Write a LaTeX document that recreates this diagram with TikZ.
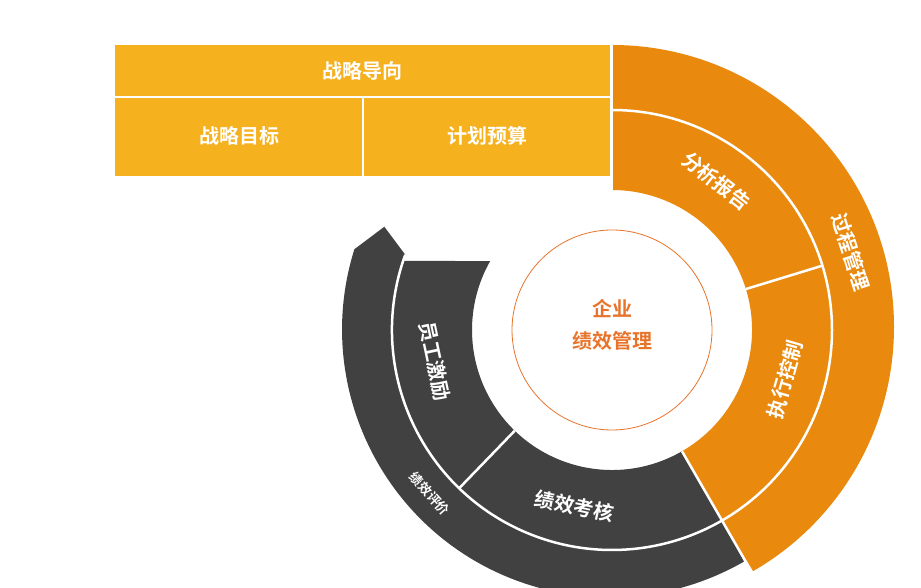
\documentclass[tikz,border=0pt]{standalone}
\usepackage{fontspec}
\setmainfont{Noto Sans CJK SC}[BoldFont={Noto Sans CJK SC Bold}]
\usetikzlibrary{positioning}
\definecolor{barYellow}{HTML}{F5B11E}
\definecolor{ringOrange}{HTML}{E98A0E}
\definecolor{ringGray}{HTML}{414141}
\definecolor{coreRed}{HTML}{E8732A}
\tikzset{
  lbl/.style={text=white,font=\bfseries\fontsize{20}{22}\selectfont},
  smalllbl/.style={text=white,font=\bfseries\fontsize{13}{14}\selectfont},
  sep/.style={white,line width=2.5pt},
}
\begin{document}
\begin{tikzpicture}[x=1pt,y=1pt]
\useasboundingbox (0,0) rectangle (921,588);

% top bar
\fill[barYellow] (115,412) rectangle (610,543);
\draw[sep] (115,491) -- (610,491);
\draw[sep] (363,412) -- (363,491);
\node[lbl] (guide) at (362,517) {战略导向};
\node[lbl] (goal) at (239,452) {战略目标};
\node[lbl] (budget) at (487,452) {计划预算};

\begin{scope}[shift={(612,258)}]
% orange rings
\fill[ringOrange] (90:220) -- (90:285) arc[start angle=90,end angle=-60,radius=282]
  -- (-60:220) arc[start angle=-60,end angle=90,radius=220] -- cycle;
\fill[ringOrange] (90:140) -- (90:220) arc[start angle=90,end angle=-60,radius=220]
  -- (-60:140) arc[start angle=-60,end angle=90,radius=140] -- cycle;
% gray rings
\fill[ringGray] (162.6:270) arc[start angle=162.6,end angle=300,radius=268]
  -- (300:220) arc[start angle=300,end angle=160,radius=220] -- (155.6:250) -- cycle;
\fill[ringGray] (150.5:140) -- (161.7:220) arc[start angle=161.7,end angle=300,radius=220]
  -- (300:140) arc[start angle=300,end angle=150.5,radius=140] -- cycle;
% separators
\draw[sep] (90:220) arc[start angle=90,end angle=-60,radius=220];
\draw[sep] (160:220) arc[start angle=160,end angle=300,radius=220];
\draw[sep] (-60:140) -- (-60:286);
\draw[sep] (17:140) -- (17:220);
\draw[sep] (226:140) -- (226:220);
\draw[sep] (90:140) -- (90:287);

% core
\node[circle,draw=coreRed,line width=0.8pt,minimum size=200pt] (core) at (0,0) {};
\node[text=coreRed,font=\bfseries\fontsize{20}{32}\selectfont,align=center] (coretext)
  at (0,5) {企业\\绩效管理};

\node[lbl,rotate=-38] (report) at (55:182) {分析报告};
\node[lbl,rotate=74] (control) at (-16:180) {执行控制};
\node[lbl,rotate=-12] (assess) at (258:180) {绩效考核};
\node[lbl,rotate=-78] (motive) at (190:180) {员工激励};
\node[lbl,rotate=-72] (process) at (18:251) {过程管理};
\node[smalllbl,rotate=-48] (evaluate) at (222:245) {绩效评价};
\end{scope}
\end{tikzpicture}
\end{document}
